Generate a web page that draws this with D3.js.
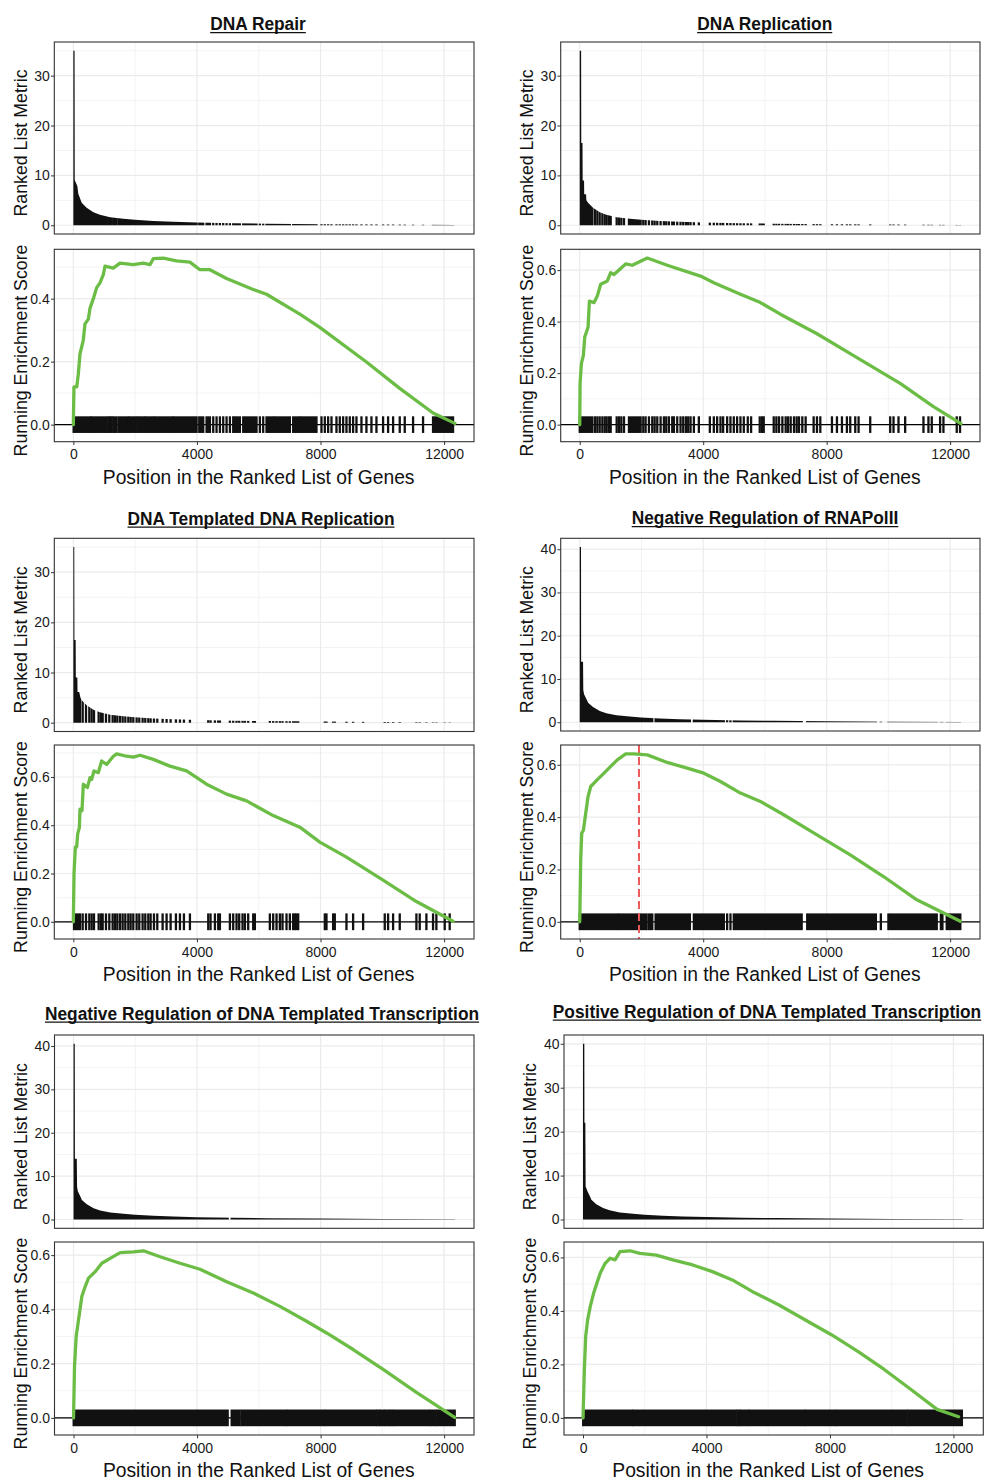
<!DOCTYPE html>
<html>
<head>
<meta charset="utf-8">
<script src="https://cdn.jsdelivr.net/npm/d3@7"></script>
<style>
    body {margin: 0; background: #fff;}
    text {font-family: "Liberation Sans", Arial, sans-serif;}
</style>
</head>
<body>
<svg id="chart" width="987" height="1482"></svg>
<script>
const nGenes = 12350;

const titles = [
    "DNA Repair",
    "DNA Replication",
    "DNA Templated DNA Replication",
    "Negative Regulation of RNAPolII",
    "Negative Regulation of DNA Templated Transcription",
    "Positive Regulation of DNA Templated Transcription"
];

const rankTicks = [0, 4000, 8000, 12000];
const metricTicks = [0, 10, 20, 30, 40];
const esTicks = [0, 0.2, 0.4, 0.6];

// ranked list metric (shared tail of the ranked list)
const metricTail = [[270, 4.5], [430, 3.5], [650, 2.6], [860, 2.1], [1190, 1.6], [1620, 1.3], [1990, 1.1],
    [2590, 0.85], [3230, 0.7], [3990, 0.55], [5170, 0.4], [6250, 0.32], [7980, 0.22], [10030, 0.14], [12350, 0.06]];

const metricHeadRepair = [[0, 35], [40, 35], [45, 9.1], [130, 7.8], [160, 6.3]];
const metricHeadReplication = [[0, 35], [45, 35], [50, 16.5], [90, 16.5], [95, 9], [140, 9], [145, 6.2], [205, 6.2], [215, 5]];
const metricHeadTemplated = [[0, 35], [30, 35], [35, 16.5], [75, 16.5], [80, 9], [130, 9], [135, 6.1], [190, 6.1], [230, 5]];
const metricHeadRNAPolII = [[0, 40.5], [42, 40.5], [46, 14], [108, 14], [115, 7.5], [140, 6.5], [240, 5]];
const metricHeadNegTx = [[0, 40.5], [40, 40.5], [45, 14], [105, 14], [115, 7.5], [140, 6.5], [240, 5]];
const metricHeadPosTx = [[0, 40], [42, 40], [46, 22], [75, 22], [85, 7.5], [140, 6.5], [240, 5]];

// gene set hits: single ranks or [start, end] runs of hits
const hitsRepair = [[10, 560], [600, 1078], 1132, 1190, 1240, [1294, 1380], [1455, 1750], [1800, 2048], [2102, 2300],
    [2350, 2587], [2641, 3200], [3250, 3989], [4075, 4204], [4312, 4420], 4528, 4635, 4743, 4851, 4959, 5067, 5174,
    [5228, 5390], [5498, 5929], 6037, 6145, [6252, 6468], [6522, 7007], [7115, 7330], [7384, 7869], 8031, 8139, 8247,
    8355, 8516, 8624, 8732, 8840, 8947, 9055, 9163, 9325, 9486, 9648, 9810, 10025, 10187, 10349, 10564, 10726, 10996,
    11319, [11642, 12289]];
const hitsReplication = [[0, 410], 496, 571, 647, 733, 809, 873, 949, 1003, 1197, 1272, 1348, 1434, [1595, 1973], 2059,
    2134, 2242, 2350, 2426, 2512, 2620, 2727, 2803, 2889, 2997, 3051, 3159, 3266, 3353, 3439, 3514, 3590, 3698, 3859,
    4215, 4344, 4452, 4560, 4646, 4776, 4883, 4991, 5099, 5207, 5315, 5444, 5552, 5832, 5907, 5961, 6285, 6371, 6457,
    6565, 6672, 6748, 6834, 6942, 7028, 7103, 7211, 7319, 7578, 7686, 7794, 8171, 8333, 8495, 8656, 8764, 8926, 9034,
    9411, 10058, 10166, 10327, 10543, 11136, 11297, 11405, 11675, 11783, 12214, 12321];
const hitsTemplated = [22, 86, 151, 216, 302, 410, 517, 593, 668, 819, 895, 949, 1056, 1164, 1272, 1348, 1423, 1509,
    1595, 1682, 1779, 1854, 1940, 2048, 2134, 2242, 2328, 2426, 2501, 2609, 2717, 2889, 3018, 3148, 3320, 3450, 3579,
    3773, 4366, 4441, 4582, 4689, 4743, 5067, 5174, 5282, 5368, 5476, 5552, 5659, 5821, 5875, 6360, 6468, 6576, 6684,
    6770, 6899, 7007, 7115, 7169, 7223, 7277, 8139, 8193, 8408, 8462, 8840, 9055, 9379, 10079, 10187, 10349, 10564,
    11103, 11211, 11427, 11642, 11750, 12020, 12181];
const hitsRNAPolII = [[0, 1218], [1272, 2167], [2242, 2350], [2458, 3568], [3698, 4668], 4776, 4883, [4991, 7190],
    [7370, 9594], 9755, [10000, 11566], [11700, 11750], [11890, 12330]];
const hitsNegTx = [[5, 4991], [5121, 5368], [5433, 6878], [6932, 8117], [8171, 9788], [9842, 9896], [9950, 10058],
    [10112, 10219], [10273, 10327], [10381, 11513], [11567, 11729], [11783, 12343]];
const hitsPosTx = [[5, 1584], [1637, 4943], [4997, 5050], [5104, 5350], [5404, 7169], [7223, 8164], [8218, 10486],
    [10540, 12273]];

// running enrichment score
const esRepair = [[0, 0], [20, 0.12], [110, 0.12], [160, 0.16], [215, 0.225], [320, 0.267], [377, 0.32], [485, 0.335],
    [540, 0.37], [647, 0.40], [755, 0.435], [862, 0.45], [970, 0.476], [1024, 0.503], [1294, 0.497], [1509, 0.513],
    [1940, 0.508], [2264, 0.513], [2480, 0.508], [2587, 0.527], [2911, 0.529], [3342, 0.52], [3773, 0.516],
    [4096, 0.492], [4420, 0.492], [4959, 0.464], [5821, 0.429], [6252, 0.414], [7330, 0.351], [7977, 0.309],
    [9486, 0.199], [10564, 0.115], [11642, 0.037], [12350, 0.004]];
const esReplication = [[0, 0], [11, 0.16], [54, 0.237], [119, 0.27], [162, 0.34], [270, 0.378], [313, 0.48],
    [464, 0.474], [571, 0.5], [679, 0.545], [895, 0.558], [1003, 0.59], [1110, 0.583], [1488, 0.624], [1703, 0.619],
    [2188, 0.647], [2835, 0.619], [3913, 0.577], [4344, 0.551], [5207, 0.506], [5853, 0.474], [6500, 0.429],
    [7686, 0.353], [8764, 0.276], [10381, 0.16], [11459, 0.07], [12350, 0.004]];
const esTemplated = [[0, 0], [22, 0.2], [65, 0.31], [108, 0.31], [140, 0.364], [194, 0.39], [216, 0.467], [280, 0.46],
    [323, 0.57], [453, 0.556], [539, 0.597], [593, 0.59], [668, 0.625], [809, 0.618], [916, 0.666], [1078, 0.652],
    [1294, 0.686], [1401, 0.696], [1725, 0.686], [1940, 0.682], [2156, 0.69], [2587, 0.673], [3126, 0.645],
    [3665, 0.625], [4312, 0.57], [4959, 0.529], [5606, 0.501], [6468, 0.44], [7330, 0.392], [7977, 0.33],
    [8840, 0.268], [10025, 0.173], [11103, 0.084], [12289, 0.002]];
const esRNAPolII = [[0, 0], [32, 0.237], [65, 0.339], [119, 0.35], [194, 0.415], [270, 0.479], [356, 0.517],
    [571, 0.543], [787, 0.568], [1003, 0.594], [1218, 0.619], [1488, 0.642], [1757, 0.642], [2188, 0.638],
    [2835, 0.609], [3482, 0.587], [4021, 0.568], [4560, 0.536], [5207, 0.492], [5853, 0.46], [6608, 0.409],
    [7686, 0.332], [8764, 0.256], [9842, 0.173], [10920, 0.084], [12330, 0.002]];
const esNegTx = [[0, 0], [32, 0.191], [86, 0.301], [162, 0.362], [270, 0.448], [377, 0.484], [485, 0.515],
    [701, 0.539], [916, 0.57], [1186, 0.588], [1509, 0.609], [1940, 0.612], [2264, 0.616], [2803, 0.594],
    [3450, 0.57], [4096, 0.548], [4959, 0.502], [5821, 0.46], [6684, 0.411], [7546, 0.356], [8193, 0.313],
    [9055, 0.252], [10025, 0.179], [11103, 0.094], [12343, 0.002]];
const esPosTx = [[0, 0], [43, 0.181], [86, 0.305], [150, 0.367], [235, 0.417], [342, 0.466], [449, 0.504],
    [556, 0.541], [717, 0.578], [877, 0.597], [1038, 0.591], [1198, 0.622], [1519, 0.625], [1840, 0.615],
    [2375, 0.609], [2910, 0.591], [3552, 0.572], [4194, 0.547], [4836, 0.516], [5478, 0.473], [6334, 0.423],
    [7190, 0.367], [8046, 0.311], [8902, 0.249], [9758, 0.181], [10614, 0.107], [11470, 0.032], [12166, 0.004]];

const peakRNAPolII = 1919;

const panels = [
    {title: titles[0], metric: metricHeadRepair.concat(metricTail), hits: hitsRepair, es: esRepair},
    {title: titles[1], metric: metricHeadReplication.concat(metricTail), hits: hitsReplication, es: esReplication},
    {title: titles[2], metric: metricHeadTemplated.concat(metricTail), hits: hitsTemplated, es: esTemplated},
    {title: titles[3], metric: metricHeadRNAPolII.concat(metricTail), hits: hitsRNAPolII, es: esRNAPolII, peak: peakRNAPolII},
    {title: titles[4], metric: metricHeadNegTx.concat(metricTail), hits: hitsNegTx, es: esNegTx},
    {title: titles[5], metric: metricHeadPosTx.concat(metricTail), hits: hitsPosTx, es: esPosTx}
];

// panel boxes [x0, y0, x1, y1] and title anchor
const layout = [
    {top: [54.3, 42, 474, 234], bot: [54.3, 249.3, 474, 441.7], title: [258, 30]},
    {top: [560.7, 42, 980, 234], bot: [560.7, 249.3, 980, 441.7], title: [764.7, 30]},
    {top: [54.3, 538.3, 474, 731.5], bot: [54.3, 745, 474, 939], title: [261, 524.5]},
    {top: [560.7, 538.3, 980, 731], bot: [560.7, 745, 980, 939], title: [765, 524]},
    {top: [54.5, 1035, 474, 1228.3], bot: [54.5, 1242, 474, 1435], title: [262, 1019.5]},
    {top: [564, 1035, 983.3, 1228.3], bot: [564, 1242, 983.3, 1435], title: [767, 1017.5]}
];

const hitW = 2.3;
const green = "#6cbd45";

const svg = d3.select("#chart");

function condense(sel, factor) {
    sel.each(function() {
        const w = this.getComputedTextLength();
        d3.select(this).attr("textLength", w * factor).attr("lengthAdjust", "spacingAndGlyphs");
    });
}

function minors(majors, domain) {
    const step = majors[1] - majors[0];
    const all = [majors[0] - step / 2].concat(majors.map(v => v + step / 2));
    return all.filter(v => v > domain[0] && v < domain[1]);
}

function drawGrid(g, x, y, box, xMajor, yMajor) {
    const [x0, y0, x1, y1] = box;
    const xd = x.domain(), yd = y.domain();
    const xM = xMajor.filter(v => v >= xd[0] && v <= xd[1]);
    const yM = yMajor.filter(v => v >= yd[0] && v <= yd[1]);

    g.append("rect").attr("x", x0).attr("y", y0).attr("width", x1 - x0).attr("height", y1 - y0).attr("fill", "#fff");

    g.append("g").selectAll("line").data(minors(xMajor, xd)).join("line")
        .attr("x1", d => x(d)).attr("x2", d => x(d)).attr("y1", y0).attr("y2", y1)
        .attr("stroke", "#f0f0f0").attr("stroke-width", 0.8);
    g.append("g").selectAll("line").data(minors(yMajor, yd)).join("line")
        .attr("x1", x0).attr("x2", x1).attr("y1", d => y(d)).attr("y2", d => y(d))
        .attr("stroke", "#f0f0f0").attr("stroke-width", 0.8);
    g.append("g").selectAll("line").data(xM).join("line")
        .attr("x1", d => x(d)).attr("x2", d => x(d)).attr("y1", y0).attr("y2", y1)
        .attr("stroke", "#ebebeb").attr("stroke-width", 1.2);
    g.append("g").selectAll("line").data(yM).join("line")
        .attr("x1", x0).attr("x2", x1).attr("y1", d => y(d)).attr("y2", d => y(d))
        .attr("stroke", "#ebebeb").attr("stroke-width", 1.2);
}

function styleAxis(g) {
    g.select(".domain").remove();
    g.selectAll(".tick line").attr("stroke", "#333").attr("stroke-width", 1);
    g.selectAll(".tick text").attr("fill", "#1a1a1a").style("font-size", "14px")
        .style("font-family", '"Liberation Sans", Arial, sans-serif');
}

function border(g, box) {
    const [x0, y0, x1, y1] = box;
    g.append("rect").attr("x", x0).attr("y", y0).attr("width", x1 - x0).attr("height", y1 - y0)
        .attr("fill", "none").attr("stroke", "#333").attr("stroke-width", 1.1);
}

panels.forEach((p, i) => {
    const L = layout[i];
    const tb = L.top, bb = L.bot;
    const hits = p.hits.map(h => Array.isArray(h) ? h : [h, h]);
    const g = svg.append("g");

    const pad = (nGenes - 1) * 0.05;
    const xTop = d3.scaleLinear().domain([1 - pad, nGenes + pad]).range([tb[0], tb[2]]);
    const xBot = d3.scaleLinear().domain([1 - pad, nGenes + pad]).range([bb[0], bb[2]]);

    const mMax = d3.max(p.metric, d => d[1]);
    const yTop = d3.scaleLinear().domain([-0.05 * mMax, 1.05 * mMax]).range([tb[3], tb[1]]);

    const esMax = d3.max(p.es, d => d[1]);
    const rugH = esMax / 20;
    const esSpan = esMax + rugH;
    const yBot = d3.scaleLinear().domain([-rugH - 0.05 * esSpan, esMax + 0.05 * esSpan]).range([bb[3], bb[1]]);

    // title
    const [tcx, tcy] = L.title;
    const title = g.append("text").text(p.title)
        .attr("x", tcx).attr("y", tcy).attr("text-anchor", "middle")
        .style("font-size", "17.5px").style("font-weight", "bold").attr("fill", "#111");
    condense(title, 0.99);
    const tw = +title.attr("textLength");
    g.append("line").attr("x1", tcx - tw / 2).attr("x2", tcx + tw / 2)
        .attr("y1", tcy + 2.6).attr("y2", tcy + 2.6).attr("stroke", "#111").attr("stroke-width", 1.4);

    // ranked list metric
    const gt = g.append("g");
    drawGrid(gt, xTop, yTop, tb, rankTicks, metricTicks);
    const clipId = `hits-${i}`;
    svg.append("clipPath").attr("id", clipId).selectAll("rect").data(hits).join("rect")
        .attr("x", d => xTop(d[0]) - hitW / 2)
        .attr("width", d => xTop(d[1]) - xTop(d[0]) + hitW)
        .attr("y", tb[1]).attr("height", tb[3] - tb[1]);
    gt.append("path").datum(p.metric)
        .attr("clip-path", `url(#${clipId})`)
        .attr("fill", "#111")
        .attr("d", d3.area().x(d => xTop(d[0])).y0(yTop(0)).y1(d => yTop(d[1])));
    border(gt, tb);
    gt.append("g").attr("transform", `translate(${tb[0]},0)`)
        .call(d3.axisLeft(yTop).tickValues(metricTicks.filter(v => v <= yTop.domain()[1]))
            .tickSize(3.3).tickPadding(1.2).tickFormat(d3.format("d")))
        .call(styleAxis);

    // running enrichment score
    const gb = g.append("g");
    drawGrid(gb, xBot, yBot, bb, rankTicks, esTicks);
    gb.append("line").attr("x1", bb[0]).attr("x2", bb[2]).attr("y1", yBot(0)).attr("y2", yBot(0))
        .attr("stroke", "#000").attr("stroke-width", 1.3);
    gb.append("g").selectAll("rect").data(hits).join("rect")
        .attr("x", d => xBot(d[0]) - hitW / 2)
        .attr("width", d => xBot(d[1]) - xBot(d[0]) + hitW)
        .attr("y", yBot(rugH)).attr("height", yBot(-rugH) - yBot(rugH))
        .attr("fill", "#111");
    if (p.peak) {
        gb.append("line").attr("x1", xBot(p.peak)).attr("x2", xBot(p.peak))
            .attr("y1", bb[1]).attr("y2", bb[3])
            .attr("stroke", "#ea5a58").attr("stroke-width", 2).attr("stroke-dasharray", "8,4");
    }
    gb.append("path").datum(p.es)
        .attr("fill", "none").attr("stroke", green).attr("stroke-width", 3.3)
        .attr("stroke-linejoin", "round").attr("stroke-linecap", "round")
        .attr("d", d3.line().x(d => xBot(d[0])).y(d => yBot(d[1])));
    border(gb, bb);
    gb.append("g").attr("transform", `translate(${bb[0]},0)`)
        .call(d3.axisLeft(yBot).tickValues(esTicks.filter(v => v <= yBot.domain()[1]))
            .tickSize(3.3).tickPadding(1.2).tickFormat(d3.format(".1f")))
        .call(styleAxis);
    gb.append("g").attr("transform", `translate(0,${bb[3]})`)
        .call(d3.axisBottom(xBot).tickValues(rankTicks).tickSize(3.3).tickPadding(4.5).tickFormat(d3.format("d")))
        .call(styleAxis);

    // axis titles
    const yl1 = g.append("text").text("Ranked List Metric")
        .attr("transform", `translate(${tb[0] - 27.7},${(tb[1] + tb[3]) / 2 + 5}) rotate(-90)`)
        .attr("text-anchor", "middle").style("font-size", "19px").attr("fill", "#111");
    condense(yl1, 0.935);
    const yl2 = g.append("text").text("Running Enrichment Score")
        .attr("transform", `translate(${bb[0] - 27.7},${(bb[1] + bb[3]) / 2 + 5}) rotate(-90)`)
        .attr("text-anchor", "middle").style("font-size", "19px").attr("fill", "#111");
    condense(yl2, 0.933);
    const xl = g.append("text").text("Position in the Ranked List of Genes")
        .attr("x", (bb[0] + bb[2]) / 2 - 5.5).attr("y", bb[3] + 42)
        .attr("text-anchor", "middle").style("font-size", "20.5px").attr("fill", "#111");
    condense(xl, 0.94);
});
</script>
</body>
</html>
